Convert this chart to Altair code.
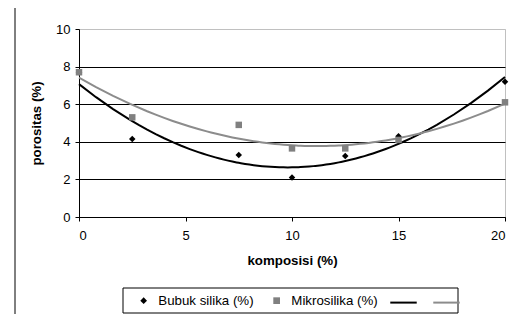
import altair as alt
import pandas as pd

x_vals = [0, 2.5, 7.5, 10, 12.5, 15, 20]
bubuk = [7.7, 4.15, 3.3, 2.1, 3.25, 4.3, 7.2]
mikro = [7.7, 5.3, 4.9, 3.65, 3.65, 4.1, 6.1]
series_names = ["Bubuk silika (%)", "Mikrosilika (%)"]
point_colors = ["#000000", "#808080"]
point_shapes = ["diamond", "square"]
trend_keys = ["tb", "tm"]
trend_colors = ["#000000", "#8c8c8c"]

rows = []
for xv, b, m in zip(x_vals, bubuk, mikro):
    rows.append({"x": xv, "y": b, "series": series_names[0]})
    rows.append({"x": xv, "y": m, "series": series_names[1]})
df = pd.DataFrame(rows)

FONT = "Liberation Sans"
base = alt.Chart(df)

x_enc = alt.X("x:Q", scale=alt.Scale(domain=[0, 20], nice=False),
              axis=alt.Axis(values=[0, 5, 10, 15, 20], title="komposisi (%)", grid=False))
y_enc = alt.Y("y:Q", scale=alt.Scale(domain=[0, 10], nice=False),
              axis=alt.Axis(values=[0, 2, 4, 6, 8, 10], title="porositas (%)", grid=True,
                            gridColor={"expr": "datum.value == 10 ? '#c0c0c0' : '#000000'"}))

points_legend = alt.Legend(
    title=None, orient="none", legendX=58, legendY=265, direction="horizontal",
    columnPadding=16, labelOffset=8, symbolSize=45, labelFont=FONT, labelFontSize=13.3,
    labelColor="#000000",
)
lines_legend = alt.Legend(
    title=None, orient="none", legendX=310, legendY=259, direction="horizontal",
    columnPadding=8, labelOffset=0, symbolType="stroke", symbolSize=700,
    symbolStrokeWidth=2, labelExpr="''", labelFont=FONT, labelFontSize=13.3,
)

lines = base.transform_regression(
    "x", "y", groupby=["series"], method="poly", order=2, extent=[0, 20]
).transform_calculate(
    key="datum.series == 'Bubuk silika (%)' ? 'tb' : 'tm'"
).mark_line(strokeWidth=2).encode(
    x=x_enc, y=y_enc,
    color=alt.Color("key:N", scale=alt.Scale(domain=trend_keys, range=trend_colors),
                    legend=lines_legend),
)

points = base.mark_point(filled=True, opacity=1).encode(
    x=x_enc, y=y_enc,
    color=alt.Color("series:N", scale=alt.Scale(domain=series_names, range=point_colors),
                    legend=points_legend),
    shape=alt.Shape("series:N", scale=alt.Scale(domain=series_names, range=point_shapes),
                    legend=points_legend),
    size=alt.value(42),
)

deco = pd.DataFrame({"a": [0]})
frame = alt.Chart(deco).mark_rule(color="#000000", strokeWidth=1).encode(
    x=alt.value(-64), y=alt.value(-25), y2=alt.value(300)
)
legend_box = alt.Chart(deco).mark_rect(fill="#ffffff", stroke="#000000", strokeWidth=1).encode(
    x=alt.value(44), x2=alt.value(379), y=alt.value(259), y2=alt.value(284)
)

chart = alt.layer(frame, legend_box, lines, points).resolve_scale(
    color="independent", shape="independent"
).properties(
    width=426, height=188,
    autosize=alt.AutoSizeParams(type="none"),
    padding={"left": 71, "top": 21, "right": 15, "bottom": 97},
).configure_view(stroke="#c0c0c0", strokeWidth=1).configure_axis(
    labelFont=FONT, labelFontSize=13, labelColor="#000000",
    titleFont=FONT, titleFontSize=13.3, titleFontWeight="bold", titleColor="#000000",
    domainColor="#000000", tickColor="#000000", tickSize=4, gridWidth=1,
).configure_axisY(titlePadding=12, labelPadding=5).configure_axisX(titlePadding=11, labelPadding=8)

chart.save("out.html", embed_options={"renderer": "svg", "actions": False})
